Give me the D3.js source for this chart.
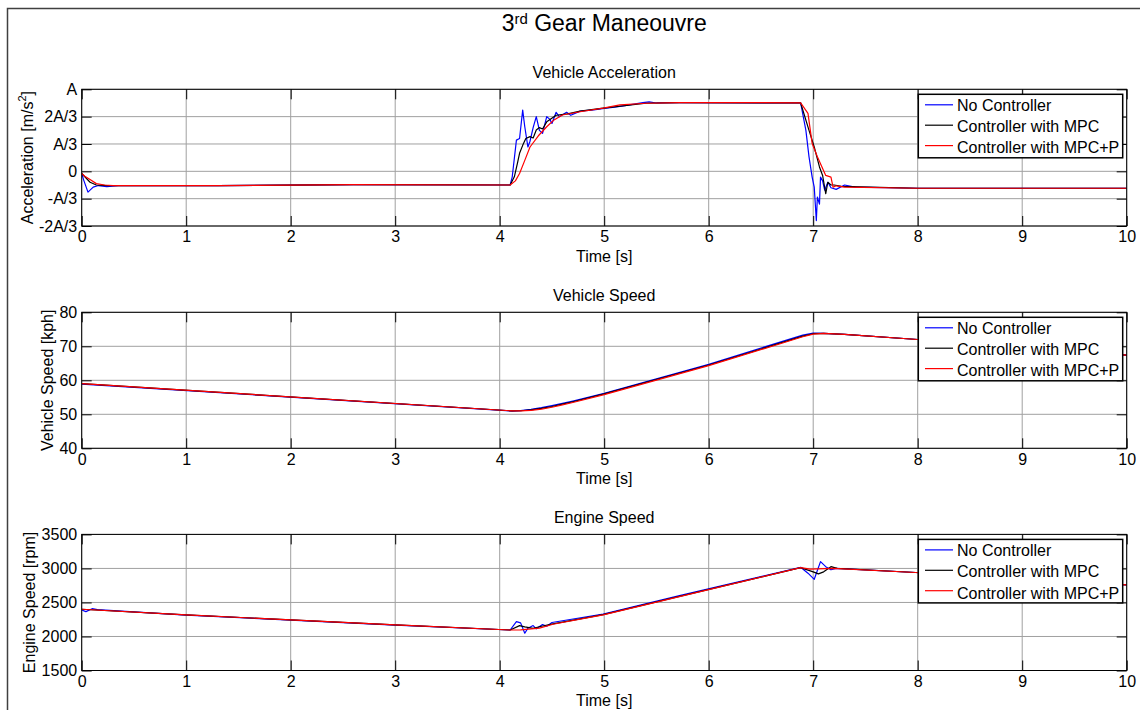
<!DOCTYPE html>
<html>
<head>
<meta charset="utf-8">
<script src="https://cdn.jsdelivr.net/npm/d3@7"></script>
<style>
  html, body { margin: 0; padding: 0; background: #fff; }
  svg { display: block; font-family: "Liberation Sans", Arial, sans-serif; }
</style>
</head>
<body>
<svg id="chart" width="1140" height="710"></svg>
<script>
// ---------------- DATA ----------------
const seriesNames = ["No Controller", "Controller with MPC", "Controller with MPC+P"];
const seriesColors = ["#0000ff", "#000000", "#ff0000"];

const timeTicks = [0, 1, 2, 3, 4, 5, 6, 7, 8, 9, 10];

// Acceleration (units of A/3)
const accTicks = [-2, -1, 0, 1, 2, 3];
const accTickLabels = ["-2A/3", "-A/3", "0", "A/3", "2A/3", "A"];

const accTimeNoCtrl = [0, 0.02, 0.06, 0.11, 0.16, 0.24, 0.35, 1.3, 2.6, 4.1, 4.12, 4.16, 4.19, 4.22, 4.24, 4.27, 4.29, 4.32, 4.35, 4.38, 4.41, 4.45, 4.48, 4.5, 4.54, 4.57, 4.64, 4.68, 4.77, 4.9, 5.0, 5.1, 5.2, 5.37, 5.43, 5.5, 5.72, 6.88, 6.93, 6.96, 6.99, 7.01, 7.03, 7.04, 7.06, 7.07, 7.09, 7.11, 7.14, 7.17, 7.22, 7.3, 7.4, 8, 10];
const accNoCtrl = [-0.08, -0.33, -0.76, -0.58, -0.52, -0.56, -0.52, -0.52, -0.49, -0.5, -0.2, 1.14, 1.2, 2.24, 1.63, 0.89, 1.1, 1.6, 2.0, 1.5, 1.39, 2.0, 1.9, 1.75, 2.16, 2.0, 2.16, 2.05, 2.2, 2.25, 2.3, 2.35, 2.4, 2.51, 2.54, 2.5, 2.51, 2.5, 1.5, 0.53, -0.21, -0.58, -1.8, -0.94, -1.2, -0.21, -0.35, -0.69, -0.4, -0.6, -0.66, -0.5, -0.58, -0.62, -0.62];

const accTimeMPC = [0, 0.03, 0.08, 0.14, 0.25, 1.3, 2.6, 4.1, 4.14, 4.17, 4.19, 4.22, 4.25, 4.29, 4.32, 4.35, 4.38, 4.41, 4.45, 4.54, 4.65, 4.77, 4.99, 5.4, 5.72, 6.88, 6.96, 7.01, 7.06, 7.09, 7.12, 7.14, 7.17, 7.2, 7.27, 8, 10];
const accMPC = [-0.08, -0.2, -0.4, -0.5, -0.52, -0.52, -0.49, -0.5, -0.2, 0.3, 0.66, 0.95, 1.2, 1.27, 1.22, 1.51, 1.6, 1.55, 1.81, 2.05, 2.1, 2.2, 2.31, 2.49, 2.51, 2.5, 1.5, 0.89, 0.16, -0.15, -0.82, -0.4, -0.5, -0.5, -0.55, -0.62, -0.62];

const accTimeMPCP = [0, 0.03, 0.08, 0.14, 0.22, 0.3, 1.3, 2.6, 4.1, 4.15, 4.19, 4.24, 4.29, 4.37, 4.45, 4.52, 4.6, 4.77, 4.99, 5.15, 5.4, 5.72, 6.5, 6.88, 6.95, 6.99, 7.04, 7.12, 7.17, 7.19, 7.22, 7.3, 8, 10];
const accMPCP = [-0.08, -0.18, -0.3, -0.45, -0.5, -0.52, -0.52, -0.49, -0.5, -0.35, -0.08, 0.4, 0.89, 1.3, 1.63, 1.88, 2.06, 2.18, 2.31, 2.43, 2.49, 2.51, 2.51, 2.5, 2.12, 1.02, 0.53, -0.15, -0.21, -0.58, -0.53, -0.58, -0.62, -0.62];

// Vehicle speed (kph)
const speedTicks = [40, 50, 60, 70, 80];
const speedTime = [0, 4.12, 4.2, 4.3, 4.4, 4.5, 4.6, 4.7, 5, 6, 6.9, 7.0, 7.1, 7.3, 8, 10];
const speedNoCtrl = [58.9, 50.95, 51.1, 51.45, 51.95, 52.55, 53.2, 53.9, 56.2, 64.7, 73.3, 73.9, 73.8, 73.5, 72.0, 67.4];
const speedMPC = [59.0, 51.0, 51.05, 51.3, 51.75, 52.3, 53.0, 53.7, 56.0, 64.5, 73.0, 73.7, 73.8, 73.5, 72.0, 67.4];
const speedMPCP = [59.0, 51.0, 51.0, 51.17, 51.54, 52.08, 52.76, 53.48, 55.8, 64.3, 72.8, 73.6, 73.8, 73.5, 72.0, 67.4];

// Engine speed (rpm)
const rpmTicks = [1500, 2000, 2500, 3000, 3500];
const rpmTimeNoCtrl = [0, 0.04, 0.1, 0.15, 1, 2, 3, 4.1, 4.16, 4.2, 4.24, 4.27, 4.32, 4.35, 4.41, 4.45, 4.5, 4.99, 5.72, 6.88, 6.95, 7.01, 7.07, 7.12, 7.17, 7.22, 7.98, 10];
const rpmNoCtrl = [2390, 2365, 2408, 2395, 2315, 2240, 2168, 2095, 2218, 2200, 2048, 2122, 2160, 2112, 2175, 2150, 2205, 2330, 2600, 3016, 2930, 2840, 3100, 3026, 2980, 3000, 2940, 2758];
const rpmTimeMPC = [0, 1, 2, 3, 4.1, 4.19, 4.24, 4.32, 4.4, 4.51, 4.99, 5.72, 6.88, 7.0, 7.05, 7.1, 7.17, 7.23, 7.98, 10];
const rpmMPC = [2400, 2317, 2243, 2170, 2095, 2160, 2140, 2120, 2150, 2185, 2320, 2590, 3012, 2950, 2920, 2950, 3026, 3000, 2940, 2758];
const rpmTimeMPCP = [0, 1, 2, 3, 4.1, 4.2, 4.38, 4.51, 4.99, 5.72, 6.88, 6.97, 7.19, 7.98, 10];
const rpmMPCP = [2400, 2317, 2243, 2170, 2095, 2097, 2122, 2180, 2317, 2585, 3012, 2990, 3000, 2940, 2758];

// ---------------- DRAWING ----------------
const svg = d3.select("#chart");
const FONT = 16;
const plotLeft = 81.7, plotRight = 1126.7;
const x = d3.scaleLinear().domain([0, 10]).range([plotLeft, plotRight]);

// outer figure frame
svg.append("path").attr("d", "M7.5,710 V8.5 H1140")
  .attr("fill", "none").attr("stroke", "#404040").attr("stroke-width", 1.5);

// main title
const mt = svg.append("text").attr("x", (plotLeft + plotRight) / 2).attr("y", 31)
  .attr("text-anchor", "middle").attr("font-size", 23).attr("fill", "#000");
mt.append("tspan").text("3");
mt.append("tspan").attr("font-size", 15).attr("dy", -7).text("rd");
mt.append("tspan").attr("dy", 7).text(" Gear Maneouvre");

function zip(ts, vs) { return ts.map((t, i) => [t, vs[i]]); }

const panels = [
  {
    top: 89.3, bottom: 226, domain: [-2, 3], ticks: accTicks, tickLabels: accTickLabels,
    title: "Vehicle Acceleration", ylabel: "acc", ylabelX: 33,
    series: [zip(accTimeNoCtrl, accNoCtrl), zip(accTimeMPC, accMPC), zip(accTimeMPCP, accMPCP)]
  },
  {
    top: 312.3, bottom: 448.3, domain: [40, 80], ticks: speedTicks, tickLabels: speedTicks.map(String),
    title: "Vehicle Speed", ylabel: "Vehicle Speed [kph]", ylabelX: 53,
    series: [zip(speedTime, speedNoCtrl), zip(speedTime, speedMPC), zip(speedTime, speedMPCP)]
  },
  {
    top: 534.4, bottom: 670.5, domain: [1500, 3500], ticks: rpmTicks, tickLabels: rpmTicks.map(String),
    title: "Engine Speed", ylabel: "Engine Speed [rpm]", ylabelX: 35,
    series: [zip(rpmTimeNoCtrl, rpmNoCtrl), zip(rpmTimeMPC, rpmMPC), zip(rpmTimeMPCP, rpmMPCP)]
  }
];

panels.forEach((p, pi) => {
  const y = d3.scaleLinear().domain(p.domain).range([p.bottom, p.top]);
  const g = svg.append("g");

  // grid
  g.append("g").selectAll("line").data(timeTicks).join("line")
    .attr("x1", d => x(d)).attr("x2", d => x(d))
    .attr("y1", p.top).attr("y2", p.bottom)
    .attr("stroke", "#a0a0a0").attr("stroke-width", 1);
  g.append("g").selectAll("line").data(p.ticks).join("line")
    .attr("x1", plotLeft).attr("x2", plotRight)
    .attr("y1", d => y(d)).attr("y2", d => y(d))
    .attr("stroke", "#a0a0a0").attr("stroke-width", 1);

  // data lines
  const clipId = "clip" + pi;
  svg.append("clipPath").attr("id", clipId).append("rect")
    .attr("x", plotLeft).attr("y", p.top).attr("width", plotRight - plotLeft).attr("height", p.bottom - p.top);
  const line = d3.line().x(d => x(d[0])).y(d => y(d[1]));
  const lg = g.append("g").attr("clip-path", `url(#${clipId})`);
  p.series.forEach((s, si) => {
    lg.append("path").datum(s).attr("d", line)
      .attr("fill", "none").attr("stroke", seriesColors[si]).attr("stroke-width", 1.2)
      .attr("stroke-linejoin", "round");
  });

  // axes (inward ticks, MATLAB style)
  const axB = d3.axisBottom(x).tickValues(timeTicks).tickSizeInner(-10).tickSizeOuter(0).tickPadding(5).tickFormat(d3.format("d"));
  const axT = d3.axisTop(x).tickValues(timeTicks).tickSizeInner(-10).tickSizeOuter(0).tickFormat("");
  const axL = d3.axisLeft(y).tickValues(p.ticks).tickSizeInner(-10).tickSizeOuter(0).tickPadding(4.5)
    .tickFormat((d, i) => p.tickLabels[i]);
  const axR = d3.axisRight(y).tickValues(p.ticks).tickSizeInner(-10).tickSizeOuter(0).tickFormat("");

  const styleAxis = sel => {
    sel.select(".domain").remove();
    sel.selectAll("line").attr("stroke", "#000").attr("stroke-width", 1);
    sel.selectAll("text").attr("font-size", FONT).attr("fill", "#000")
      .attr("font-family", "'Liberation Sans', Arial, sans-serif");
  };
  g.append("g").attr("transform", `translate(0,${p.bottom})`).call(axB).call(styleAxis);
  g.append("g").attr("transform", `translate(0,${p.top})`).call(axT).call(styleAxis);
  g.append("g").attr("transform", `translate(${plotLeft},0)`).call(axL).call(styleAxis);
  g.append("g").attr("transform", `translate(${plotRight},0)`).call(axR).call(styleAxis);

  // plot box
  g.append("rect").attr("x", plotLeft).attr("y", p.top)
    .attr("width", plotRight - plotLeft).attr("height", p.bottom - p.top)
    .attr("fill", "none").attr("stroke", "#000").attr("stroke-width", 1);

  // panel title
  g.append("text").attr("x", (plotLeft + plotRight) / 2).attr("y", p.top - 11)
    .attr("text-anchor", "middle").attr("font-size", FONT).text(p.title);

  // x label
  g.append("text").attr("x", (plotLeft + plotRight) / 2).attr("y", p.bottom + 35.5)
    .attr("text-anchor", "middle").attr("font-size", FONT).text("Time [s]");

  // y label
  const yl = g.append("text")
    .attr("transform", `translate(${p.ylabelX},${(p.top + p.bottom) / 2}) rotate(-90)`)
    .attr("text-anchor", "middle").attr("font-size", FONT);
  if (p.ylabel === "acc") {
    yl.append("tspan").text("Acceleration [m/s");
    yl.append("tspan").attr("font-size", 11).attr("dy", -7).text("2");
    yl.append("tspan").attr("dy", 7).text("]");
  } else {
    yl.text(p.ylabel);
  }

  // legend
  const lx = 918.3, ly = p.top + 5, lw = 204.4, lh = 63.5;
  const leg = g.append("g");
  leg.append("rect").attr("x", lx).attr("y", ly).attr("width", lw).attr("height", lh)
    .attr("fill", "#fff").attr("stroke", "#000").attr("stroke-width", 1.5);
  seriesNames.forEach((name, i) => {
    const cy = ly + 11 + i * 21.2;
    leg.append("line").attr("x1", 925).attr("x2", 953).attr("y1", cy - 0.5 - i * 0.8).attr("y2", cy - 0.5 - i * 0.8)
      .attr("stroke", seriesColors[i]).attr("stroke-width", 1.2);
    leg.append("text").attr("x", 957).attr("y", cy + 5.7).attr("font-size", FONT).text(name);
  });
});
</script>
</body>
</html>
